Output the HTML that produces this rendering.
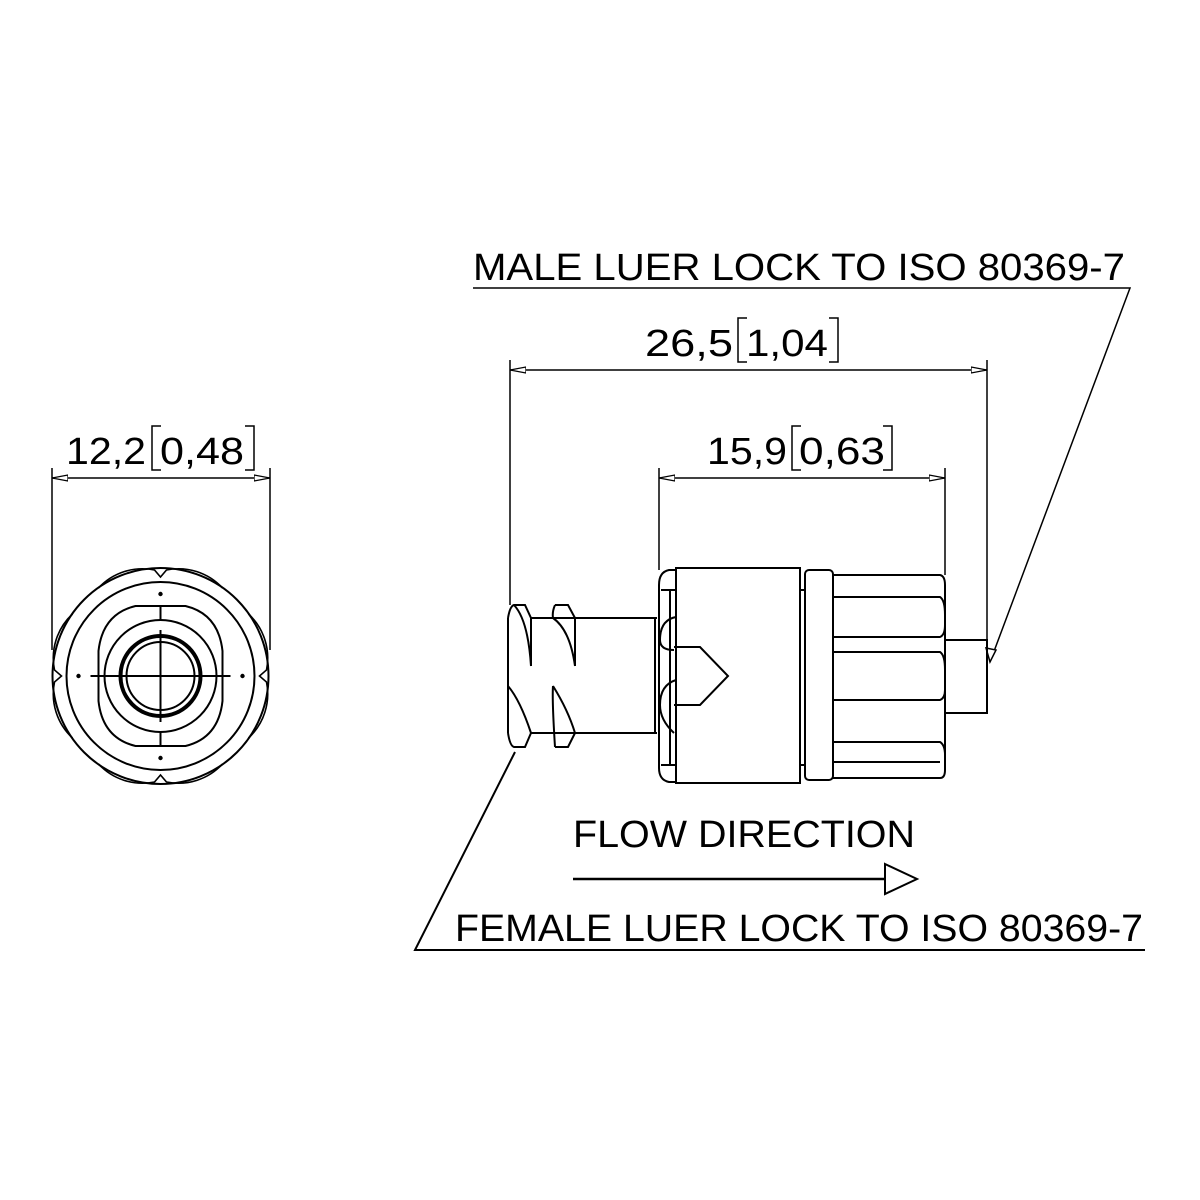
<!DOCTYPE html>
<html><head><style>html,body{margin:0;padding:0;background:#fff}svg{display:block}</style></head><body>
<svg width="1200" height="1200" viewBox="0 0 1200 1200" xmlns="http://www.w3.org/2000/svg">
<defs>
<marker id="a" markerWidth="16" markerHeight="8" refX="16" refY="4" orient="auto-start-reverse" markerUnits="userSpaceOnUse"><path d="M0,1 L16,4 L0,7 Z" fill="#fff" stroke="#000" stroke-width="1.3"/></marker>
</defs>
<g font-family="Liberation Sans, sans-serif" font-size="38" fill="#000">
<text x="473" y="280" textLength="652" lengthAdjust="spacingAndGlyphs">MALE LUER LOCK TO ISO 80369-7</text>
<text x="645" y="356" textLength="88" lengthAdjust="spacingAndGlyphs">26,5</text>
<text x="746" y="356" textLength="82" lengthAdjust="spacingAndGlyphs">1,04</text>
<text x="707" y="464" textLength="80" lengthAdjust="spacingAndGlyphs">15,9</text>
<text x="799" y="464" textLength="86" lengthAdjust="spacingAndGlyphs">0,63</text>
<text x="66" y="464" textLength="80" lengthAdjust="spacingAndGlyphs">12,2</text>
<text x="160" y="464" textLength="84" lengthAdjust="spacingAndGlyphs">0,48</text>
<text x="573" y="847" textLength="342" lengthAdjust="spacingAndGlyphs">FLOW DIRECTION</text>
<text x="455" y="941" textLength="688" lengthAdjust="spacingAndGlyphs">FEMALE LUER LOCK TO ISO 80369-7</text>
</g>
<g fill="none" stroke="#000" stroke-width="1.5">
<path d="M747,318 H738 V362 H747 M829,318 H838 V362 H829"/>
<path d="M801,426 H792 V470 H801 M883,426 H892 V470 H883"/>
<path d="M161,426 H152 V470 H161 M245,426 H254 V470 H245"/>
<line x1="510" y1="370" x2="987" y2="370" marker-start="url(#a)" marker-end="url(#a)"/>
<line x1="510" y1="360" x2="510" y2="605"/>
<line x1="987" y1="360" x2="987" y2="645"/>
<line x1="659" y1="478" x2="945" y2="478" marker-start="url(#a)" marker-end="url(#a)"/>
<line x1="659" y1="468" x2="659" y2="570"/>
<line x1="945" y1="468" x2="945" y2="575"/>
<line x1="52" y1="478" x2="270" y2="478" marker-start="url(#a)" marker-end="url(#a)"/>
<line x1="52" y1="468" x2="52" y2="650"/>
<line x1="270" y1="468" x2="270" y2="650"/>
<polyline points="473,288 1130,288 990,662"/>
<path d="M990,662 L986,648 L996,650 Z" fill="#fff"/>
<polyline points="515,752 415,950 1145,950" stroke-width="2"/>
<line x1="573" y1="879" x2="885" y2="879" stroke-width="2.5"/>
<path d="M885,864 L917,879 L885,894 Z" fill="#fff" stroke-width="2"/>
</g>
<g fill="none" stroke="#000" stroke-width="2" transform="translate(160.5,676)">
<circle r="108"/>
<circle r="94"/>
<path d="M-62,-88 A60,60 0 0 1 -6,-106 L0,-99 L6,-106 A60,60 0 0 1 62,-88" stroke-width="1.6"/>
<path d="M-62,88 A60,60 0 0 0 -6,106 L0,99 L6,106 A60,60 0 0 0 62,88" stroke-width="1.6"/>
<path d="M-88,-62 A60,60 0 0 0 -106,-6 L-99,0 L-106,6 A60,60 0 0 0 -88,62" stroke-width="1.6"/>
<path d="M88,-62 A60,60 0 0 1 106,-6 L99,0 L106,6 A60,60 0 0 1 88,62" stroke-width="1.6"/>
<path d="M-25,-70 H25 Q58,-62 62,-25 V25 Q58,62 25,70 H-25 Q-58,62 -62,25 V-25 Q-58,-62 -25,-70 Z"/>
<circle r="56"/>
<circle r="40" stroke-width="4"/>
<circle r="34"/>
<path d="M0,-70 V-56 M0,56 V70 M-70,0 H70 M0,-46 V46" stroke-width="2"/>
<circle cx="0" cy="-82" r="1.2" fill="#000"/><circle cx="0" cy="82" r="1.2" fill="#000"/>
<circle cx="-82" cy="0" r="1.2" fill="#000"/><circle cx="82" cy="0" r="1.2" fill="#000"/>
</g>
<g fill="none" stroke="#000" stroke-width="2">
<path d="M530,618 H657 M530,733 H657 M508,618 V733"/>
<path d="M655,618 V733"/>
<path d="M508,618 Q510,606 514,605 H525 L531,618 M514,605 Q528,620 531,666 M525,605 L531,618 V666"/>
<path d="M555,605 H568 L575,618 V666 M555,605 Q552,612 553,618 Q570,630 575,666"/>
<path d="M508,733 Q510,746 514,747 H525 L531,733 M508,686 Q520,700 531,733"/>
<path d="M555,747 H568 L575,733 M553,686 Q552,700 555,747 M553,686 Q568,710 575,733"/>
<path d="M676,570 H669 Q659,572 659,585 V768 Q659,780 669,782 H676 Z"/>
<path d="M661,590 H675 M661,765 H675 M670,590 V765"/>
<path d="M676,617 Q660,620 660,640 Q660,650 674,650 M676,680 Q660,685 660,705 Q660,720 674,733"/>
<path d="M676,568 H800 V783 H676 Z"/>
<path d="M674,647 H700 L728,676 L700,705 H674"/>
<path d="M800,590 H805 V765 H800"/>
<rect x="805" y="570" width="28" height="210" rx="4"/>
<path d="M833,575 H940 Q945,576 945,585 V770 Q945,778 940,778 H833"/>
<path d="M833,597 H940 Q945,600 945,615 V625 Q945,635 940,637 H833 M833,652 H940 Q945,655 945,670 V690 Q945,698 940,700 H833 M833,742 H940 Q945,745 945,755 M833,762 H940"/>
<path d="M945,640 H987 V713 H945"/>
</g>
</svg>
</body></html>
